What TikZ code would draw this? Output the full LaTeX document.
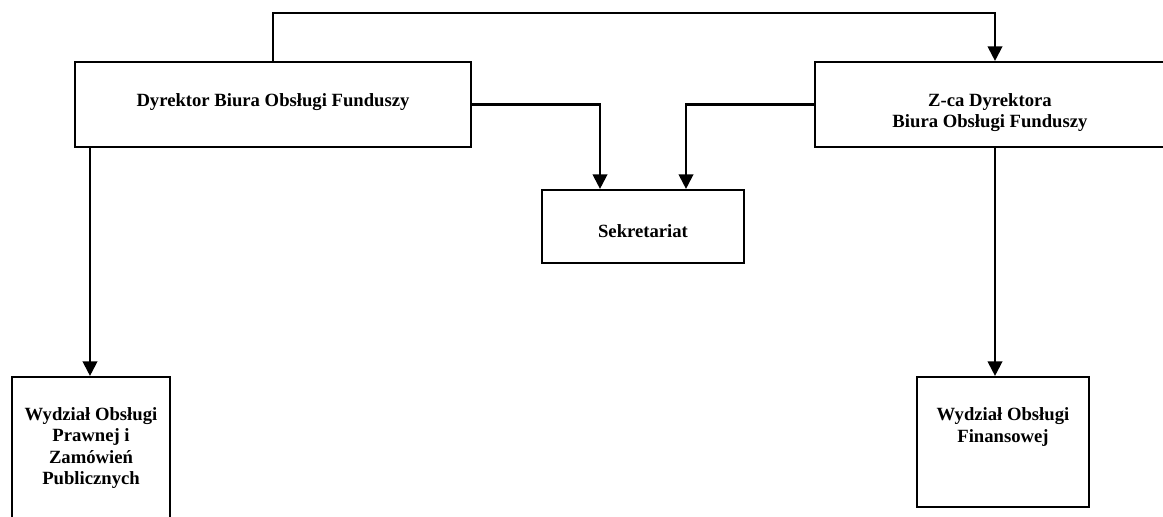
\documentclass[tikz,border=0pt]{standalone}
\usepackage{fontspec}
\setmainfont{Liberation Serif}
\usetikzlibrary{arrows.meta}
\begin{document}
\begin{tikzpicture}[x=0.75pt,y=-0.75pt,
  box/.style={draw,line width=1.6pt,rectangle,inner sep=0pt},
  txt/.style={align=center,font=\fontsize{14}{16}\selectfont\bfseries,inner sep=0pt},
  conn/.style={line width=1.6pt,-{Triangle[width=11pt,length=11pt]}}]
\useasboundingbox (0,0) rectangle (1163,517);
\clip (0,0) rectangle (1163,517);
% boxes
\node[box,minimum width=396*0.75pt,minimum height=85*0.75pt] (dyr) at (273,104.5) {};
\node[txt] at (273,102) {Dyrektor Biura Obsługi Funduszy};
\node[box,minimum width=360*0.75pt,minimum height=85*0.75pt] (zca) at (995,104.5) {};
\node[txt] at (990,112.5) {Z-ca Dyrektora\\Biura Obsługi Funduszy};
\node[box,minimum width=202*0.75pt,minimum height=73*0.75pt] (sek) at (643,226.5) {};
\node[txt] at (643,231) {Sekretariat};
\node[box,minimum width=158*0.75pt,minimum height=146*0.75pt] (praw) at (91,450) {};
\node[txt] at (91,448) {Wydział Obsługi\\Prawnej i\\Zamówień\\Publicznych};
\node[box,minimum width=172*0.75pt,minimum height=130*0.75pt] (fin) at (1003,442) {};
\node[txt] at (1003,427) {Wydział Obsługi\\Finansowej};
% connectors
\coordinate (t1) at (273,13);
\draw[conn] (dyr.north) -- (t1) -| (zca.north);
\draw[conn] (dyr.east) -| (600,0|-sek.north);
\draw[conn] (zca.west) -| (686,0|-sek.north);
\draw[conn] (90,0|-dyr.south) -- (90,0|-praw.north);
\draw[conn] (zca.south) -- (zca.south|-fin.north);
\end{tikzpicture}
\end{document}
